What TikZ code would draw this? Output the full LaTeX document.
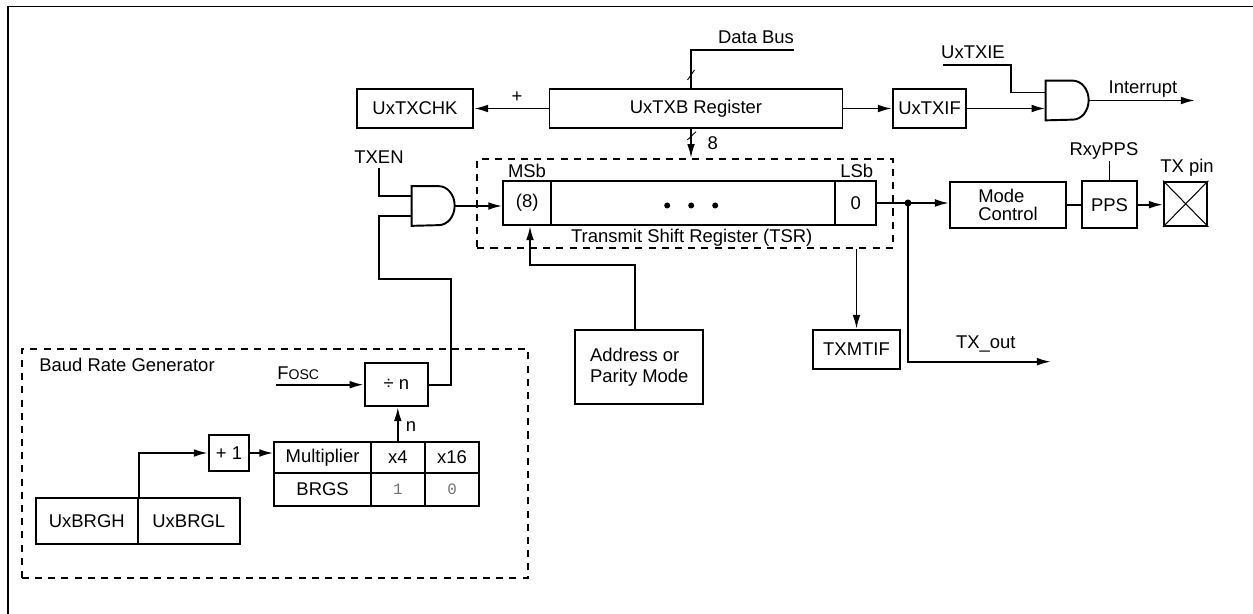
\documentclass[tikz,border=0pt]{standalone}
\usepackage{fontspec}
\setmainfont{Liberation Sans}
\setmonofont{Liberation Mono}
\usetikzlibrary{arrows.meta,calc}
\newlength{\pxu}
\setlength{\pxu}{0.02cm}
\tikzset{
	blk/.style 2 args={draw, line width=1.1pt, inner sep=0pt, minimum width=#1\pxu, minimum height=#2\pxu},
	dbox/.style 2 args={draw, dash pattern=on 4pt off 3.5pt, line width=1.1pt, inner sep=0pt, minimum width=#1\pxu, minimum height=#2\pxu},
	wire/.style={line width=1.1pt},
	arr/.style={wire, -{Latex[length=8pt,width=4.4pt]}},
	lbl/.style={inner sep=0pt},
	andbody/.style={inner sep=0pt, minimum width=43\pxu, minimum height=39\pxu},
	bitval/.style={font=\ttfamily\fontsize{9}{10}\selectfont, text=black!55}
}
\begin{document}
\begin{tikzpicture}[x=0.02cm, y=-0.02cm, font=\fontsize{10.5}{12.6}\selectfont]
		\useasboundingbox (0,0) rectangle (1253,614);
		\draw[line width=1.1pt] (8,614) -- (8,6.5) -- (1253,6.5);

		\node[dbox={416}{88.5}] (tsr) at (685.3,203.3) {};
		\node[dbox={506}{229}] (brg) at (274.9,463.7) {};
		\node[lbl] (brgl0) at (127,365) {Baud Rate Generator};

		\node[blk={116}{39}] (chk) at (415,108.5) {UxTXCHK};
		\node[blk={293}{39}] (txb) at (696,108.5) {UxTXB Register};
		\node[blk={73}{39}] (txif) at (929.5,108.5) {UxTXIF};
		\node[andbody] (g1) at (1067.5,100.5) {};
		\node[andbody] (g2) at (433.5,206) {};
		\foreach \g in {g1,g2}
			\draw[wire] (\g.north west) -- ++(27,0) arc[start angle=90, end angle=-90, x radius=16\pxu, y radius=19.5\pxu] -- (\g.south west) -- cycle;

		\node[blk={47.7}{44}] (msb) at (527.2,203) {(8)};
		\node[blk={284.3}{44}] (mid) at (693.2,203) {};
		\node[blk={40.7}{44}] (lsb) at (855.7,203) {0};
		\foreach \d in {-26,-2,22}
			\fill ($(mid.center)+(\d,2.5)$) circle (3\pxu);
		\node[lbl] (msbl) at (527,171) {MSb};
		\node[lbl] (lsbl) at (856.7,171) {LSb};
		\node[lbl] (tsrl) at (691.7,237.3) {Transmit Shift Register (TSR)};

		\node[blk={116}{46.6}, align=left, font=\fontsize{10.5}{10}\selectfont] (mode) at (1008,205) {Mode\\Control};
		\node[blk={55}{47}] (pps) at (1109.5,204.7) {PPS};
		\node[blk={43.4}{44.3}] (pin) at (1185.7,203.8) {};
		\draw[line width=0.6pt] (pin.north west) -- (pin.south east) (pin.north east) -- (pin.south west);
		\node[lbl] (pinl) at (1187,168) {TX pin};
		\node[lbl] (rxy) at (1104,150.7) {RxyPPS};
		\node[blk={87}{39}] (mtif) at (856.5,349.5) {TXMTIF};
		\node[blk={128}{74}, align=left, font=\fontsize{10.5}{12}\selectfont] (addr) at (639.3,367) {Address or\\Parity Mode};

		\node[blk={63.6}{42.7}] (div) at (396.4,384.7) {÷ n};
		\node[blk={40.3}{36.6}] (inc) at (229,453) {+ 1};
		\node[blk={96.5}{31.6}] (mult) at (322.6,457.5) {Multiplier};
		\node[blk={53.8}{31.6}] (x4) at (397.8,457.5) {x4};
		\node[blk={54.5}{31.6}] (x16) at (452,457.5) {x16};
		\node[blk={96.5}{32.4}] (brgs) at (322.6,489.5) {BRGS};
		\node[blk={53.8}{32.4}, bitval] (one) at (397.8,489.5) {1};
		\node[blk={54.5}{32.4}, bitval] (zero) at (452,489.5) {0};
		\node[blk={101.6}{45.7}] (brgh) at (86.8,521.2) {UxBRGH};
		\node[blk={102.4}{45.7}] (brgl) at (188.8,521.2) {UxBRGL};

		% data bus and UxTXB
		\coordinate (dbus) at (794,50);
		\draw[wire] (dbus) -| (691,0 |- txb.north);
		\draw[line width=0.5pt] (687.5,80) -- (694.5,70);
		\node[lbl] (dbl) at (756,37.7) {Data Bus};
		\draw[arr] (691,0 |- txb.south) -- (691,0 |- tsr.north);
		\draw[line width=0.5pt] (687.3,140) -- (696,131.7);
		\node[lbl] (w8) at (712.7,143.3) {8};
		\draw[arr] (txb.west) -- (chk.east);
		\node[lbl] (pl) at (517,97) {+};
		\draw[arr] (txb.east) -- (txif.west);

		% interrupt
		\coordinate (g1a) at ($(g1.west)+(0,-8)$);
		\coordinate (txie) at (943,65);
		\node[lbl] (txiel) at (973,52.7) {UxTXIE};
		\draw[wire] (txie) -| (1010.8,0 |- g1a) -- (g1a);
		\draw[arr] (txif.east) -- (txif.east -| g1.west);
		\coordinate (intr) at (1195,100.5);
		\draw[arr] (g1.east) -- (intr);
		\node[lbl] (intl) at (1143,89) {Interrupt};

		% TXEN gate
		\node[lbl] (txen) at (379,157) {TXEN};
		\coordinate (g2a) at ($(g2.west)+(0,-10)$);
		\coordinate (g2b) at ($(g2.west)+(0,10)$);
		\draw[wire] ($(txen.south)+(0,4)$) |- (g2a);
		\draw[wire] (div.east) -| (450.8,279) -| (txen.south |- g2b) -- (g2b);
		\draw[arr] (g2.east) -- (g2.east -| msb.west);
		\draw[arr] ([xshift=-4\pxu]addr.north) |- (530,265) -- (530,0 |- msb.south);

		% output side
		\draw[wire] (lsb.east) -- (908,0 |- lsb.east) coordinate (jn);
		\fill (jn) circle (3.5\pxu);
		\draw[arr] (jn) -- (mode.west |- jn);
		\coordinate (txo) at (1051,361.7);
		\draw[arr] (jn) |- (txo);
		\node[lbl] (txol) at (985.8,344) {TX\_out};
		\draw[wire] (mode.east) -- (pps.west |- mode.east);
		\draw[arr] (pps.east) -- (pin.west |- pps.east);
		\draw[wire] (pps.north) -- ++(0,-19);
		\draw[arr] (mtif.north |- tsr.south) -- (mtif.north);

		% baud rate generator
		\coordinate (fosc) at (276,384.7);
		\draw[arr] (fosc) -- (div.west);
		\node[lbl, anchor=base west] (foscl) at (277,379) {F{\footnotesize OSC}};
		\draw[arr] (x4.north) -- (x4.north |- div.south);
		\node[lbl] (nl) at (411,426.7) {n};
		\draw[arr] (brgh.north east) |- (inc.west);
		\draw[arr] (inc.east) -- (inc.east -| mult.west);
\end{tikzpicture}
\end{document}
